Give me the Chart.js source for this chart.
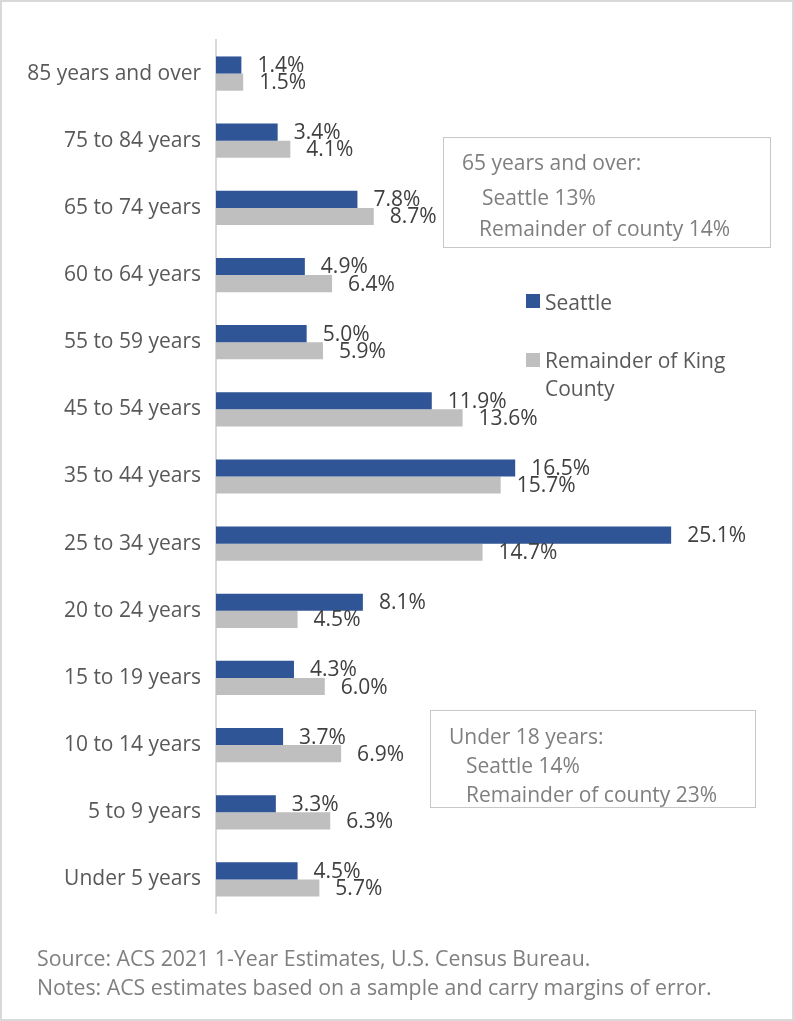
<!DOCTYPE html>
<html>
<head>
<meta charset="utf-8">
<script src="https://cdn.jsdelivr.net/npm/chart.js@4/dist/chart.umd.min.js"></script>
<style>
  body { margin: 0; background: #fff; font-family: "Open Sans", sans-serif; }
  #wrap { position: relative; width: 794px; height: 1021px; overflow: hidden; }
  #frame { position: absolute; left: 0; top: 0; width: 794px; height: 1021px; box-sizing: border-box; border: 2px solid #d9d9d9; pointer-events: none; }
  canvas { position: absolute; left: 0; top: 0; }
  .box { position: absolute; border: 1.5px solid #c8c8c8; box-sizing: border-box; color: #7f7f7f; font-size: 21px; }
  .box div { position: absolute; white-space: nowrap; line-height: 1; }
  .legend { position: absolute; color: #595959; font-size: 21px; line-height: 28px; white-space: nowrap; }
  .swatch { position: absolute; width: 14px; height: 14px; }
  .note { position: absolute; left: 37px; color: #7f7f7f; font-size: 21.3px; line-height: 28px; white-space: nowrap; }
</style>
</head>
<body>
<div id="wrap">
  <canvas id="ageChart" width="794" height="1021"></canvas>

  <div class="box" style="left:443px; top:137px; width:328px; height:111px;">
    <div style="left:18px; top:14px;">65 years and over:</div>
    <div style="left:38px; top:49px;">Seattle 13%</div>
    <div style="left:35px; top:80px;">Remainder of county 14%</div>
  </div>

  <div class="box" style="left:430px; top:710px; width:326px; height:98px;">
    <div style="left:18px; top:15px;">Under 18 years:</div>
    <div style="left:35px; top:44px;">Seattle 14%</div>
    <div style="left:35px; top:73px;">Remainder of county 23%</div>
  </div>

  <div id="legendBox"></div>

  <div class="note" style="top:944px;">Source: ACS 2021 1-Year Estimates, U.S. Census Bureau.</div>
  <div class="note" style="top:973px;">Notes: ACS estimates based on a sample and carry margins of error.</div>
  <div id="frame"></div>
</div>

<script>
// ===== البيانات =====
const categories = [
    '85 years and over', '75 to 84 years', '65 to 74 years', '60 to 64 years',
    '55 to 59 years', '45 to 54 years', '35 to 44 years', '25 to 34 years',
    '20 to 24 years', '15 to 19 years', '10 to 14 years', '5 to 9 years', 'Under 5 years'
];
const seattle = [1.4, 3.4, 7.8, 4.9, 5.0, 11.9, 16.5, 25.1, 8.1, 4.3, 3.7, 3.3, 4.5];
const remainderKing = [1.5, 4.1, 8.7, 6.4, 5.9, 13.6, 15.7, 14.7, 4.5, 6.0, 6.9, 6.3, 5.7];
const seriesNames = ['Seattle', 'Remainder of King County'];
const seriesColors = ['#2F5597', '#BFBFBF'];

// ===== عناوين القيم =====
const valueLabels = {
    id: 'valueLabels',
    afterDatasetsDraw(chart) {
        const ctx = chart.ctx;
        ctx.save();
        ctx.font = '21px "Open Sans"';
        ctx.fillStyle = '#404040';
        ctx.textAlign = 'left';
        ctx.textBaseline = 'middle';
        chart.data.datasets.forEach((ds, i) => {
            chart.getDatasetMeta(i).data.forEach((bar, j) => {
                ctx.fillText(ds.data[j].toFixed(1) + '%', bar.x + 16, bar.y + 1);
            });
        });
        ctx.restore();
    }
};

new Chart(document.getElementById('ageChart').getContext('2d'), {
    type: 'bar',
    data: {
        labels: categories,
        datasets: [
            { label: seriesNames[0], data: seattle, backgroundColor: seriesColors[0] },
            { label: seriesNames[1], data: remainderKing, backgroundColor: seriesColors[1] }
        ]
    },
    options: {
        indexAxis: 'y',
        responsive: false,
        animation: false,
        layout: { padding: { top: 40, bottom: 108, right: 34, left: 0 } },
        datasets: { bar: { categoryPercentage: 0.51, barPercentage: 1 } },
        plugins: { legend: { display: false }, tooltip: { enabled: false } },
        scales: {
            x: { display: false, min: 0, max: 30 },
            y: {
                afterFit(scale) { scale.width = 216; },
                grid: { display: false },
                border: { display: true, color: '#d9d9d9', width: 2 },
                ticks: { color: '#595959', padding: 7, font: { family: 'Open Sans', size: 21 } }
            }
        }
    },
    plugins: [valueLabels]
});

// ===== وسيلة الإيضاح =====
const legendBox = document.getElementById('legendBox');
legendBox.innerHTML = `
    <div class="swatch" style="left:526px; top:294px; background:${seriesColors[0]}"></div>
    <div class="legend" style="left:545px; top:288px;">${seriesNames[0]}</div>
    <div class="swatch" style="left:526px; top:353px; background:${seriesColors[1]}"></div>
    <div class="legend" style="left:545px; top:346px;">Remainder of King<br>County</div>`;
</script>
</body>
</html>
